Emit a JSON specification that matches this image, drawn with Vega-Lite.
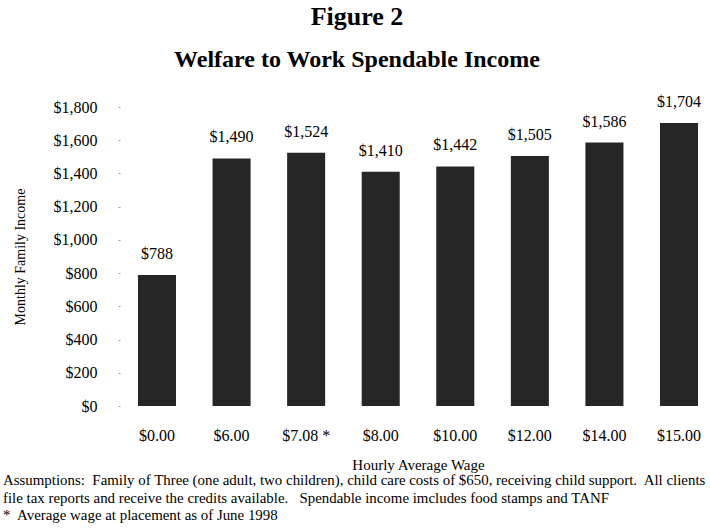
{
  "$schema": "https://vega.github.io/schema/vega-lite/v6.json",
  "background": "white",
  "padding": {"left": 3, "top": 3, "right": 0, "bottom": 0},
  "title": {
    "text": "Figure 2",
    "subtitle": "Welfare to Work Spendable Income",
    "font": "Liberation Serif",
    "fontSize": 26,
    "fontWeight": "bold",
    "color": "black",
    "subtitleFont": "Liberation Serif",
    "subtitleFontSize": 24,
    "subtitleFontWeight": "bold",
    "subtitleColor": "black",
    "subtitlePadding": 18,
    "anchor": "middle",
    "offset": 22
  },
  "config": {"view": {"stroke": null}, "concat": {"spacing": 0}},
  "vconcat": [
    {
      "width": 586,
      "height": 299,
      "title": {
        "text": [
          "Assumptions:\u00a0 Family of Three (one adult, two children), child care costs of $650, receiving child support.\u00a0 All clients",
          "file tax reports and receive the credits available.\u00a0\u00a0 Spendable income imcludes food stamps and TANF",
          "*\u00a0 Average wage at placement as of June 1998"
        ],
        "orient": "bottom",
        "anchor": "start",
        "align": "left",
        "font": "Liberation Serif",
        "fontSize": 14.9,
        "fontWeight": "normal",
        "color": "black",
        "lineHeight": 17.5,
        "offset": 1,
        "dx": -10
      },
      "data": {
        "values": [
          {"wage": "$0.00", "income": 788},
          {"wage": "$6.00", "income": 1490},
          {"wage": "$7.08 *", "income": 1524},
          {"wage": "$8.00", "income": 1410},
          {"wage": "$10.00", "income": 1442},
          {"wage": "$12.00", "income": 1505},
          {"wage": "$14.00", "income": 1586},
          {"wage": "$15.00", "income": 1704}
        ]
      },
      "encoding": {
        "x": {
          "field": "wage",
          "type": "nominal",
          "sort": null,
          "scale": {"paddingInner": 0.49, "paddingOuter": 0.174},
          "axis": {
            "title": "Hourly Average Wage",
            "labelAngle": 0,
            "domain": false,
            "ticks": false,
            "labelPadding": 21,
            "labelFont": "Liberation Serif",
            "labelFontSize": 16,
            "labelColor": "black",
            "titleFont": "Liberation Serif",
            "titleFontSize": 15,
            "titleFontWeight": "normal",
            "titleColor": "black",
            "titlePadding": 14
          }
        },
        "y": {
          "field": "income",
          "type": "quantitative",
          "scale": {"domain": [0, 1800]},
          "axis": {
            "title": "Monthly Family Income",
            "values": [0, 200, 400, 600, 800, 1000, 1200, 1400, 1600, 1800],
            "format": "$,.0f",
            "grid": false,
            "domain": false,
            "offset": 5,
            "tickSize": 2,
            "tickColor": "#999",
            "labelPadding": 21,
            "labelFont": "Liberation Serif",
            "labelFontSize": 16,
            "labelColor": "black",
            "titleFont": "Liberation Serif",
            "titleFontSize": 14,
            "titleFontWeight": "normal",
            "titleColor": "black",
            "titlePadding": 26
          }
        }
      },
      "layer": [
        {"mark": {"type": "bar", "color": "#262626"}},
        {
          "mark": {
            "type": "text",
            "baseline": "middle",
            "dy": -21,
            "font": "Liberation Serif",
            "fontSize": 16,
            "color": "black"
          },
          "encoding": {"text": {"field": "income", "type": "quantitative", "format": "$,.0f"}}
        }
      ]
    }
  ]
}
